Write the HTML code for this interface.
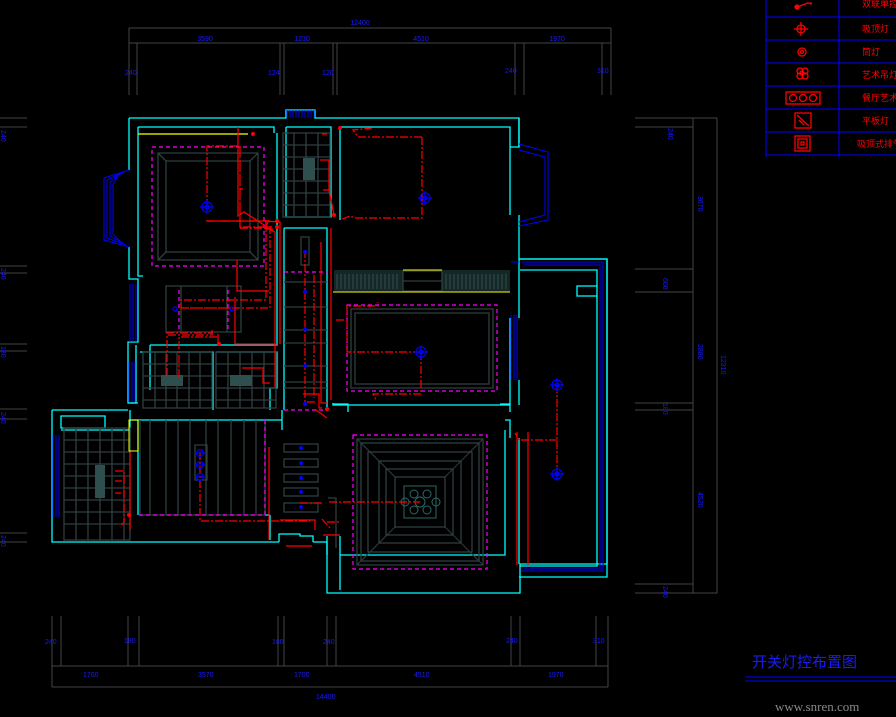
<!DOCTYPE html>
<html><head><meta charset="utf-8"><style>
html,body{margin:0;padding:0;background:#000;width:896px;height:717px;overflow:hidden}
svg{display:block}
.d{stroke:#444;stroke-width:1;fill:none}
.t{fill:#1a1aff;font-family:"Liberation Sans",sans-serif;font-size:7px}
.c{stroke:#00ffff;stroke-width:1.3;fill:none}
.b{stroke:#0000ff;stroke-width:1;fill:none}
.g{stroke:#2f3f40;stroke-width:1.3;fill:none}
.m{stroke:#ff00ff;stroke-width:1.2;fill:none;stroke-dasharray:4 3}
.r{stroke:#ff0000;stroke-width:1.2;fill:none}
.rd{stroke:#ff0000;stroke-width:1.2;fill:none;stroke-dasharray:8 2 2 2}
.l{stroke:#0000ff;stroke-width:1.2;fill:none}
</style></head><body>
<svg width="896" height="717" viewBox="0 0 896 717">
<!-- top dims -->
<path class="d" d="M129 28H611M129 43H611M129 28V95M137 43V95M280 43V95M284 43V95M333 43V95M337 43V95M515 43V95M524 43V95M602 43V95M611 28V95"/>
<text class="t" x="360" y="25" text-anchor="middle">12400</text>
<text class="t" x="205" y="41" text-anchor="middle">3590</text>
<text class="t" x="302" y="41" text-anchor="middle">1230</text>
<text class="t" x="421" y="41" text-anchor="middle">4510</text>
<text class="t" x="557" y="41" text-anchor="middle">1970</text>
<text class="t" x="125" y="75">240</text><text class="t" x="268" y="75">124</text><text class="t" x="322" y="75">120</text><text class="t" x="505" y="73">240</text><text class="t" x="597" y="73">310</text>
<!-- right dims -->
<path class="d" d="M693 118V593M717 118V593M635 118H717M635 127H693M635 269H693M635 292H693M635 403H693M635 410H693M635 584H693M635 593H717"/>
<g class="t"><text x="668" y="128" transform="rotate(90 668 128)">240</text><text x="698" y="196" transform="rotate(90 698 196)">3670</text><text x="663" y="278" transform="rotate(90 663 278)">608</text><text x="698" y="344" transform="rotate(90 698 344)">2880</text><text x="663" y="403" transform="rotate(90 663 403)">180</text><text x="698" y="492" transform="rotate(90 698 492)">4520</text><text x="663" y="586" transform="rotate(90 663 586)">240</text><text x="721" y="355" transform="rotate(90 721 355)">12310</text></g>
<!-- left dims -->
<path class="d" d="M0 118H27M0 127H27M0 266H27M0 273H27M0 344H27M0 351H27M0 409H27M0 419H27M0 533H27M0 542H27"/>
<g class="t"><text x="1" y="130" transform="rotate(90 1 130)">240</text><text x="1" y="268" transform="rotate(90 1 268)">240</text><text x="1" y="346" transform="rotate(90 1 346)">180</text><text x="1" y="412" transform="rotate(90 1 412)">240</text><text x="1" y="535" transform="rotate(90 1 535)">240</text></g>
<!-- bottom dims -->
<path class="d" d="M52 666H608M52 687H608M52 616V687M61 616V666M128 616V666M139 616V666M278 616V666M284 616V666M327 616V666M336 616V666M511 616V666M520 616V666M596 616V666M608 616V687"/>
<g class="t"><text x="45" y="644">240</text><text x="124" y="643">180</text><text x="272" y="644">180</text><text x="323" y="644">240</text><text x="506" y="643">240</text><text x="593" y="643">310</text>
<text x="83" y="677">1760</text><text x="198" y="677">3570</text><text x="294" y="677">1700</text><text x="414" y="677">4510</text><text x="548" y="677">1970</text><text x="316" y="699">14400</text></g>
<!-- legend -->
<path class="b" d="M766 0V157M839 0V157M766 17H896M766 40H896M766 63H896M766 86H896M766 109H896M766 132H896M766 155H896" stroke-width="1.3"/>
<g fill="none" stroke="#f00" stroke-width="1.3">
<circle cx="797" cy="7" r="2" fill="#f00"/><path d="M797 7L808 3L811 4V2"/>
<circle cx="801" cy="29" r="4"/><path d="M794 29H808M801 22V36"/>
<circle cx="802" cy="52" r="4"/><circle cx="802" cy="52" r="1.5"/>
<circle cx="800" cy="71" r="3"/><circle cx="805" cy="71" r="3"/><circle cx="800" cy="76" r="3"/><circle cx="805" cy="76" r="3"/><circle cx="802" cy="73" r="2"/>
<rect x="786" y="92" width="34" height="12"/><circle cx="793" cy="98" r="3.5"/><circle cx="803" cy="98" r="3.5"/><circle cx="813" cy="98" r="3.5"/>
<rect x="795" y="113" width="16" height="15"/><path d="M797 115L809 126M799 120L804 125"/>
<rect x="795" y="136" width="15" height="15"/><rect x="798" y="139" width="9" height="9"/><rect x="801" y="142" width="3" height="3"/></g>
<g fill="#f00" font-family="'Liberation Sans','Noto Sans CJK SC',sans-serif" font-size="9"><text x="862" y="7">双联单控开关</text><text x="862" y="32">吸顶灯</text><text x="862" y="55">筒灯</text><text x="862" y="78">艺术吊灯</text><text x="862" y="101">餐厅艺术灯</text><text x="862" y="124">平板灯</text><text x="857" y="147">吸顶式排气扇</text></g>
<!-- title -->
<text x="752" y="667" fill="#1a1aff" font-family="'Liberation Sans','Noto Sans CJK SC',sans-serif" font-size="15">开关灯控布置图</text>
<path d="M745 677H896M745 681H896" stroke="#0000ff" stroke-width="1"/>
<text x="775" y="711" fill="#888" font-family="'Liberation Serif',serif" font-size="13">www.snren.com</text>

<!-- outer walls -->
<path class="c" d="M129 118H286V110H315V118H519V147H510M129 118V170M129 247V279H138V342H128V403H136M52 410H128M52 410V542H279M313 542H327V593H520V564H607V259H519"/>
<path class="c" d="M138 127V276H143M138 127H274V133M286 127H331V217H286V127M340 127H510V215M510 318V405M340 127V220M519 118V147M519 215V318M519 380V405"/>
<path class="c" d="M519 259H607V577H519M520 270H597V566H520M577 286H597V296H577Z"/>
<path class="c" d="M277 133V345H150M284 228V343M284 228H327V343H327M327 228V343M284 343V410M327 343V410M333 403V405H510V410M333 404H348V412M500 404H510V412M327 410V403M150 345V390M136 345V403M130 403H138M140 352H213V410M216 352H277V388H270V410"/>
<path class="c" d="M61 416H105V428H61ZM61 430H130V416M130 410V420H282V430M282 410V424M130 420V453M138 420V515M270 540V515M270 515H265M279 542V534H300V536H313V542M327 536V555M340 536V590M340 555H505V430M505 420H510V438M519 438V564"/>
<!-- blue windows -->
<g class="b"><path d="M129 170L104 178V240L129 247M126 171L107 180V238L126 245M123 172L110 182V236L123 243M120 173L113 184V234L120 241"/>
<path d="M130 284V342M133 284V342M136 284V342M129 362V402M132 362V402M135 362V402M53 435V517M56 435V517M59 435V517"/>
<path d="M287 110V118M290 110V118M293 110V118M296 110V118M299 110V118M302 110V118M305 110V118M308 110V118M311 110V118M314 110V118"/>
<path d="M519 150L545 157V215L519 222M519 144L548 152V220L519 226M511 315V380M514 315V380M517 315V380M511 262H519M521 262H603V571H521M524 265H600V569H524"/></g>
<!-- bedroom 1 ceiling -->
<path class="g" d="M158 153H258V260H158ZM166 161H250V252H166ZM158 153L166 161M258 153L250 161M158 260L166 252M258 260L250 252"/>
<path class="m" d="M152 147H264V266H152Z"/>
<path d="M138 134H248" stroke="#ff0" stroke-width="1.3"/>
<!-- bathroom grids -->
<g class="g" stroke-width="1"><path d="M283 133H330V217H283ZM283 145H330M283 157H330M283 169H330M283 181H330M283 193H330M283 205H330M294 133V217M306 133V217M318 133V217"/>
<path d="M143 352H212V408H143ZM143 364H212M143 376H212M143 388H212M143 400H212M155 352V408M166 352V408M177 352V408M189 352V408M200 352V408"/>
<path d="M216 352H276V408H216ZM216 364H276M216 376H276M216 388H276M216 400H276M228 352V408M240 352V408M252 352V408M264 352V408"/>
<path d="M64 428H130V540H64ZM64 440H130M64 452H130M64 464H130M64 476H130M64 488H130M64 500H130M64 512H130M64 524H130M76 428V540M88 428V540M100 428V540M112 428V540M124 428V540"/>
<path d="M166 286H241V332H166ZM181 286V332M227 286V332"/></g>
<rect x="303" y="158" width="12" height="22" fill="#2f4f4f"/><rect x="161" y="375" width="22" height="11" fill="#2f4f4f"/><rect x="230" y="375" width="22" height="11" fill="#2f4f4f"/><rect x="95" y="465" width="10" height="33" fill="#2f4f4f"/>
<path class="m" d="M179 290V330M228 290V330"/>
<!-- corridor -->
<path class="g" d="M301 237H309V265H301Z"/>
<path class="m" d="M284 272H327M284 410H327"/>
<path class="g" stroke-width="0.8" d="M284 282H327M284 307H327M284 330H327M284 343H327M284 366H327M284 382H327M284 388H327"/>
<!-- wardrobe -->
<rect x="334" y="270" width="69" height="22" fill="#142626"/><rect x="442" y="270" width="68" height="22" fill="#142626"/>
<path stroke="#2f5050" stroke-width="1" fill="none" d="M337 274V289M341 274V289M345 274V289M349 274V289M353 274V289M357 274V289M361 274V289M365 274V289M369 274V289M373 274V289M377 274V289M381 274V289M385 274V289M389 274V289M393 274V289M397 274V289M446 274V289M450 274V289M454 274V289M458 274V289M462 274V289M466 274V289M470 274V289M474 274V289M478 274V289M482 274V289M486 274V289M490 274V289M494 274V289M498 274V289M502 274V289M506 274V289"/>
<path class="g" d="M403 271H442V291H403ZM403 281H442"/>
<path d="M403 270H442M333 292H510" stroke="#ff0" stroke-width="1"/>
<!-- living room ceiling -->
<path class="g" d="M351 309H493V388H351ZM355 313H489V384H355Z"/>
<path class="m" d="M347 305H497V391H347Z"/>
<!-- dining -->
<path class="g" d="M140 420V515H265V420M150 420V515M166 420V515M178 420V515M190 420V515M206 420V515M218 420V515M231 420V515M244 420V515M256 420V515M195 445H207V480H195Z"/>
<path d="M129 420H138V451H129Z" stroke="#ff0" fill="none"/>
<path class="m" d="M265 420V515H138"/>
<!-- stair lights -->
<g class="g"><rect x="284" y="444" width="34" height="8"/><rect x="284" y="459" width="34" height="8"/><rect x="284" y="474" width="34" height="8"/><rect x="284" y="488" width="34" height="8"/><rect x="284" y="503" width="34" height="9"/><path d="M328 498H336V548"/></g>
<!-- big ceiling -->
<g class="g" stroke-width="2"><rect x="357" y="439" width="126" height="126" stroke-width="1.2"/><rect x="361" y="443" width="118" height="118"/><rect x="368" y="452" width="104" height="100"/><rect x="379" y="461" width="82" height="82"/><rect x="386" y="469" width="67" height="66"/><rect x="395" y="477" width="50" height="50"/><path d="M357 439L395 477M483 439L445 477M357 565L395 527M483 565L445 527" stroke-width="1"/></g>
<path class="m" d="M353 435H487V569H353Z"/>
<g fill="none" stroke="#2a6a6a" stroke-width="1"><rect x="404" y="486" width="32" height="32"/><circle cx="414" cy="494" r="4"/><circle cx="427" cy="494" r="4"/><circle cx="414" cy="510" r="4"/><circle cx="427" cy="510" r="4"/><circle cx="420" cy="502" r="5"/><circle cx="405" cy="502" r="4"/><circle cx="436" cy="502" r="4"/></g>
<!-- red wiring -->
<g class="rd"><path d="M207 207V146H240V228M240 228H265M207 220V221H265M240 146V227H266M240 227V228"/>
<path d="M243 189H240M240 228H265L269 220M265 227L272 227M208 221H266"/>
<path d="M266 220V300H181V308H270V226M181 308H236"/>
<path d="M166 333H213M167 376V335H212V330M179 377V337H217"/>
<path d="M422 137V218H355L350 216L340 220M422 137H358L353 130L372 128"/>
<path d="M421 352H347V306H378V302M421 352V394H373L376 400"/>
<path d="M305 250V402H315M314 275V398"/>
<path d="M557 385V474M557 440H519L515 433"/>
<path d="M322 503H300M329 502H420"/>
<path d="M200 452V521H310M115 471H124V522L120 527M115 481H122M115 493H121"/>
<path d="M322 519L330 528M327 522H339"/></g>
<g class="r"><path d="M238 127V216L244 212L264 225M266 220V229H273M265 227L275 232"/>
<path d="M237 260V291H269M327 134H322M320 160H329V190H323M329 190L334 215"/>
<path d="M235 297V344H277M218 334V345M263 367V383H270M242 368H262"/>
<path d="M265 221L280 222V344M275 232V388"/>
<path d="M321 242V403H327M331 228V400M336 320H344"/>
<path d="M517 432V565M528 432V565M130 452V530M269 447V540M280 520H315V530"/>
<path d="M303 394H319V408H322M316 410L327 418"/>
<path d="M286 546H312M323 535H340"/></g>
<g fill="#f00"><circle cx="253" cy="134" r="2"/><circle cx="340" cy="128" r="2"/><circle cx="277" cy="221" r="2"/><circle cx="277" cy="227" r="2"/><circle cx="334" cy="215" r="2"/><circle cx="219" cy="344" r="2"/><circle cx="327" cy="409" r="2"/><circle cx="129" cy="515" r="2"/></g>
<!-- blue lamps -->
<g class="l"><circle cx="207" cy="207" r="5"/><circle cx="207" cy="207" r="2"/><path d="M200 207H214M207 200V214"/>
<circle cx="425" cy="198" r="5"/><circle cx="425" cy="198" r="2"/><path d="M418 198H432M425 191V205"/>
<circle cx="421" cy="352" r="5"/><circle cx="421" cy="352" r="2"/><path d="M414 352H428M421 345V359"/>
<circle cx="557" cy="385" r="5"/><circle cx="557" cy="385" r="2"/><path d="M550 385H564M557 378V392"/>
<circle cx="557" cy="474" r="5"/><circle cx="557" cy="474" r="2"/><path d="M550 474H564M557 467V481"/>
<circle cx="200" cy="453" r="3.5"/><circle cx="200" cy="465" r="3.5"/><circle cx="200" cy="477" r="3.5"/><path d="M195 453H205M195 465H205M195 477H205"/>
<circle cx="175" cy="309" r="2"/><circle cx="232" cy="309" r="2"/></g>
<g fill="#0000ff"><circle cx="305" cy="252" r="2"/><circle cx="305" cy="292" r="2"/><circle cx="305" cy="329" r="2"/><circle cx="305" cy="366" r="2"/><circle cx="305" cy="404" r="2"/><circle cx="301" cy="448" r="2"/><circle cx="301" cy="463" r="2"/><circle cx="301" cy="478" r="2"/><circle cx="301" cy="492" r="2"/><circle cx="301" cy="507" r="2"/></g>
</svg>
</body></html>
